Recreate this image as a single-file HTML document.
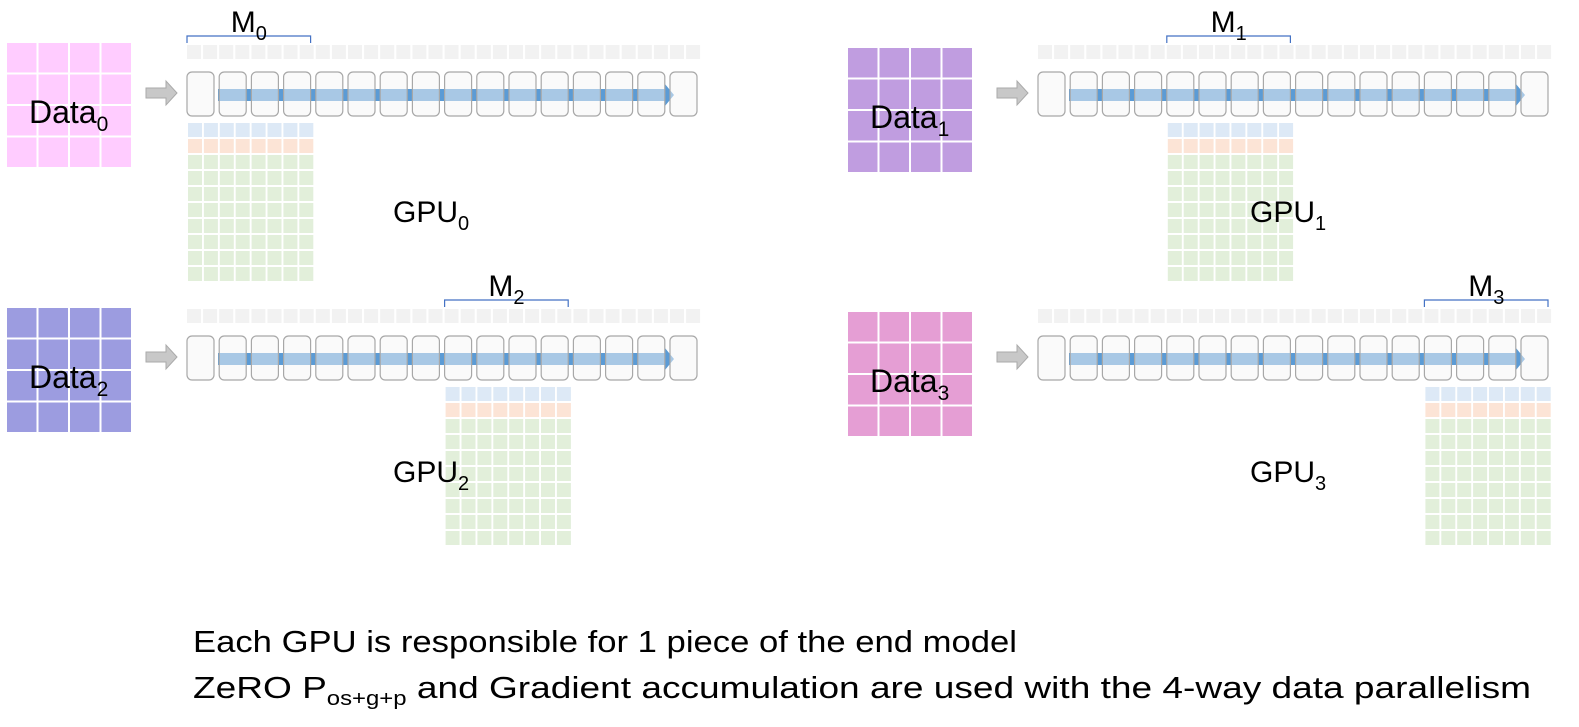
<!DOCTYPE html>
<html><head><meta charset="utf-8"><style>
html,body{margin:0;padding:0;background:#fff;}
svg{display:block;font-family:"Liberation Sans",sans-serif;}
</style></head><body>
<svg id="root" width="1579" height="727" viewBox="0 0 1579 727" xmlns="http://www.w3.org/2000/svg">
<g id="panels"></g>
<text x="193" y="652" font-size="31" textLength="824" lengthAdjust="spacingAndGlyphs" fill="#000">Each GPU is responsible for 1 piece of the end model</text>
<text x="193" y="698" font-size="31" textLength="1338" lengthAdjust="spacingAndGlyphs" fill="#000">ZeRO P<tspan font-size="20" dy="7">os+g+p</tspan><tspan dy="-7"> and Gradient accumulation are used with the 4-way data parallelism</tspan></text>
</svg>
<script>
const gpuIds=[0,1,2,3];
const dataColors=['#ffccff','#c09de0','#9c9ce0','#e59ed4'];
const dataX=[7,848,7,848];
const dataY=[43,48,308,312];
const rowX=[187,1038,187,1038];
const rowY=[72,72,336,336];
const shardIndex=[0,1,2,3];
const gpuLabelPos=[[393,222],[1250,222],[393,482],[1250,482]];
const NS='http://www.w3.org/2000/svg';
const root=document.getElementById('panels');
function el(tag,attrs,parent){const e=document.createElementNS(NS,tag);for(const k in attrs)e.setAttribute(k,attrs[k]);(parent||root).appendChild(e);return e;}
const pitch=32.2, bw=27, bh=44;
gpuIds.forEach(i=>{
  const g=el('g',{});
  
  
  const dg=el('g',{},g);
  
  
  for(let r=0;r<4;r++)for(let c=0;c<4;c++){
    el('rect',{x:dataX[i]+c*31.5,y:dataY[i]+r*31.5,width:29.5,height:29.5,fill:dataColors[i]},dg);
  }
  const dt=el('text',{x:dataX[i]+22,y:dataY[i]+80,'font-size':'32',fill:'#000'},g);
  
  
  dt.innerHTML='Data<tspan font-size="21" dy="8">'+i+'</tspan>';
  const ax=rowX[i]-41, ay=rowY[i]+21;
  const ar=el('path',{d:`M${ax} ${ay-5}h20v-7l11 12l-11 12v-7h-20z`,fill:'#c8c8c8',stroke:'#aaa','stroke-width':'1'},g);
  
  
  for(let k=0;k<32;k++){
    el('rect',{x:rowX[i]+k*16.1,y:rowY[i]-27,width:14,height:14,fill:'#f2f2f2'},g);
  }
  const fx1=rowX[i]+31, fx2=rowX[i]+15*pitch+3, fy=rowY[i]+23;
  const fl=el('path',{d:`M${fx1} ${fy-6}H${fx2-8}v-5l9 11l-9 11v-5H${fx1}z`,fill:'#5b9bd5'},g);
  
  
  for(let k=0;k<16;k++){
    const b=el('rect',{x:rowX[i]+k*pitch,y:rowY[i],width:bw,height:bh,rx:5,fill:'rgba(246,246,246,0.5)',stroke:'#a8a8a8','stroke-width':'1.2'},g);
    
    
  }
  const s=shardIndex[i];
  const bx1=rowX[i]+s*4*pitch, bx2=bx1+3*pitch+bw;
  const br=el('path',{d:`M${bx1} ${rowY[i]-29}v-7H${bx2}v7`,fill:'none',stroke:'#4472c4','stroke-width':'1.2'},g);
  
  
  const mt=el('text',{x:(bx1+bx2)/2-18,y:rowY[i]-40,'font-size':'30',fill:'#000'},g);
  
  
  mt.innerHTML='M<tspan font-size="20" dy="8">'+i+'</tspan>';
  const mg=el('g',{},g);
  
  
  for(let r=0;r<10;r++)for(let c=0;c<8;c++){
    const col=r===0?'#dde9f6':(r===1?'#fce4d6':'#e2efda');
    el('rect',{x:bx1+1+c*15.9,y:rowY[i]+51+r*16,width:14,height:14,fill:col},mg);
  }
  const gt=el('text',{x:gpuLabelPos[i][0],y:gpuLabelPos[i][1],'font-size':'30',fill:'#000'},g);
  
  
  gt.innerHTML='GPU<tspan font-size="20" dy="8">'+i+'</tspan>';
});
</script>
</body></html>
